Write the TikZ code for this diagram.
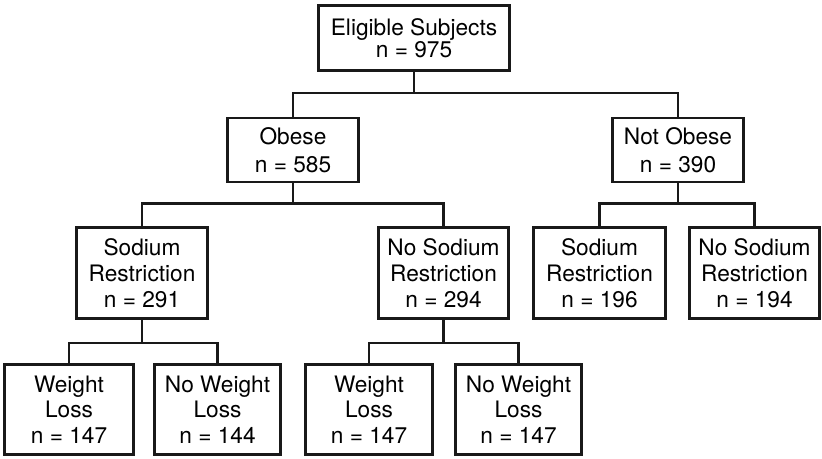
\documentclass[tikz,border=0pt]{standalone}
\usepackage{fontspec}
\setmainfont{TeX Gyre Heros}
\begin{document}
\begin{tikzpicture}[x=0.75pt,y=-0.75pt,
  bx/.style n args={2}{draw=black!90, line width=2pt, fill=white, inner sep=0pt,
    minimum width=#1*0.75pt, minimum height=#2*0.75pt, align=center,
    font=\fontsize{17}{19.3}\selectfont},
  conn/.style={draw=black!90, line width=2pt, line join=miter}]
\useasboundingbox (0,0) rectangle (822,459);
% level 0
\node[bx={191}{65}, font=\fontsize{17}{16.5}\selectfont] (root) at (414,38) {Eligible Subjects\\n = 975};
% level 1
\node[bx={131}{64}, font=\fontsize{17}{21}\selectfont] (ob) at (293,150) {Obese\\n = 585};
\node[bx={131}{64}, font=\fontsize{17}{21}\selectfont] (nob) at (678,150) {Not Obese\\n = 390};
% level 2
\node[bx={131}{91}] (sr1) at (142,273) {Sodium\\Restriction\\n = 291};
\node[bx={130}{91}] (nsr1) at (443.5,273) {No Sodium\\Restriction\\n = 294};
\node[bx={132}{91}] (sr2) at (599.5,273) {Sodium\\Restriction\\n = 196};
\node[bx={130}{91}] (nsr2) at (754.5,273) {No Sodium\\Restriction\\n = 194};
% level 3
\node[bx={129}{90}] (wl1) at (69,409.5) {Weight\\Loss\\n = 147};
\node[bx={126}{90}] (nwl1) at (217.5,409.5) {No Weight\\Loss\\n = 144};
\node[bx={127}{90}] (wl2) at (369,409.5) {Weight\\Loss\\n = 147};
\node[bx={126}{90}] (nwl2) at (518.5,409.5) {No Weight\\Loss\\n = 147};
% connectors
\coordinate (j0) at (414,93);
\coordinate (j1) at (293,203.5);
\coordinate (j2) at (678,203.5);
\coordinate (j3) at (142,343);
\coordinate (j4) at (443.5,343);
\path[conn] (root.south) -- (j0);
\path[conn] (j0) -| (ob.north);
\path[conn] (j0) -| (nob.north);
\path[conn] (ob.south) -- (j1);
\path[conn] (j1) -| (sr1.north);
\path[conn] (j1) -| (nsr1.north);
\path[conn] (nob.south) -- (j2);
\path[conn] (j2) -| (sr2.north);
\path[conn] (j2) -| (nsr2.north);
\path[conn] (sr1.south) -- (j3);
\path[conn] (j3) -| (wl1.north);
\path[conn] (j3) -| (nwl1.north);
\path[conn] (nsr1.south) -- (j4);
\path[conn] (j4) -| (wl2.north);
\path[conn] (j4) -| (nwl2.north);
\end{tikzpicture}
\end{document}
